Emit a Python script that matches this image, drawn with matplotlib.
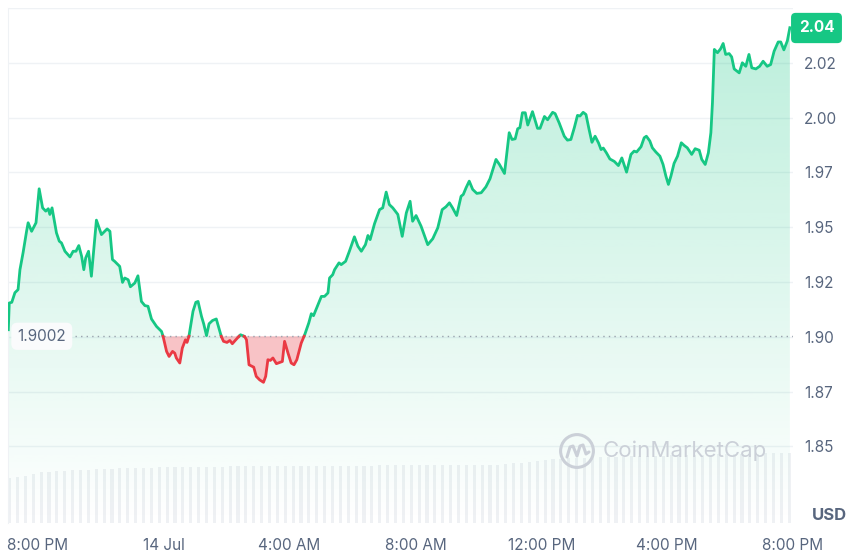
import numpy as np
import matplotlib
matplotlib.use("Agg")
import matplotlib.pyplot as plt
from matplotlib.patches import Polygon, Circle

# price, hours after 8:00 PM (13 Jul)
time_h = [-0.94, -0.91, -0.83, -0.73, -0.63, -0.57, -0.47, -0.36, -0.31, -0.20,
          -0.06, 0.04, 0.15, 0.25, 0.33, 0.38, 0.45, 0.59, 0.68, 0.75,
          0.86, 1.02, 1.12, 1.21, 1.30, 1.39, 1.46, 1.52, 1.61, 1.70,
          1.86, 2.02, 2.20, 2.29, 2.37, 2.44, 2.60, 2.69, 2.76, 2.87,
          2.94, 3.08, 3.18, 3.29, 3.40, 3.50, 3.61, 3.77, 3.93, 3.98,
          4.09, 4.17, 4.28, 4.35, 4.40, 4.51, 4.59, 4.69, 4.74, 4.80,
          4.93, 5.02, 5.09, 5.20, 5.27, 5.36, 5.44, 5.55, 5.67, 5.76,
          5.83, 5.90, 6.01, 6.10, 6.18, 6.29, 6.44, 6.57, 6.63, 6.71,
          6.86, 6.94, 7.05, 7.17, 7.24, 7.31, 7.39, 7.47, 7.58, 7.70,
          7.77, 7.84, 7.95, 8.05, 8.14, 8.23, 8.37, 8.48, 8.61, 8.69,
          8.76, 8.90, 9.01, 9.11, 9.22, 9.27, 9.37, 9.43, 9.57, 9.64,
          9.78, 9.90, 10.06, 10.17, 10.28, 10.41, 10.49, 10.56, 10.70, 10.86,
          10.96, 11.07, 11.17, 11.28, 11.44, 11.58, 11.71, 11.83, 11.91, 12.02,
          12.18, 12.39, 12.55, 12.71, 12.85, 12.97, 13.08, 13.18, 13.31, 13.45,
          13.52, 13.61, 13.71, 13.82, 13.95, 14.09, 14.24, 14.37, 14.56, 14.67,
          14.83, 14.98, 15.07, 15.17, 15.25, 15.32, 15.40, 15.49, 15.57, 15.72,
          15.88, 15.96, 16.10, 16.20, 16.36, 16.44, 16.57, 16.73, 16.83, 16.94,
          17.05, 17.15, 17.23, 17.33, 17.42, 17.52, 17.61, 17.71, 17.82, 17.90,
          17.97, 18.07, 18.18, 18.32, 18.45, 18.56, 18.71, 18.85, 18.95, 19.03,
          19.17, 19.27, 19.34, 19.45, 19.53, 19.64, 19.77, 19.87, 19.96, 20.04,
          20.12, 20.22, 20.33, 20.45, 20.54, 20.64, 20.78, 20.89, 21.02, 21.10,
          21.21, 21.31, 21.39, 21.44, 21.50, 21.60, 21.70, 21.78, 21.86, 21.97,
          22.05, 22.13, 22.29, 22.39, 22.50, 22.60, 22.69, 22.82, 22.94, 23.05,
          23.18, 23.29, 23.40, 23.53, 23.61, 23.71, 23.82, 23.90]
price = [1.9032, 1.9154, 1.9157, 1.9201, 1.9215, 1.9306, 1.9384, 1.9481, 1.9520, 1.9481,
         1.9520, 1.9675, 1.9588, 1.9573, 1.9584, 1.9558, 1.9588, 1.9474, 1.9436, 1.9428,
         1.9390, 1.9364, 1.9390, 1.9390, 1.9416, 1.9367, 1.9306, 1.9360, 1.9390, 1.9276,
         1.9532, 1.9466, 1.9492, 1.9481, 1.9352, 1.9344, 1.9321, 1.9248, 1.9268, 1.9260,
         1.9228, 1.9245, 1.9278, 1.9161, 1.9142, 1.9139, 1.9081, 1.9047, 1.9024, 1.9001,
         1.8933, 1.8910, 1.8933, 1.8925, 1.8903, 1.8880, 1.8948, 1.8986, 1.8974, 1.9001,
         1.9116, 1.9157, 1.9161, 1.9093, 1.9059, 1.9005, 1.9059, 1.9074, 1.9081, 1.9035,
         1.9001, 1.8979, 1.8974, 1.8983, 1.8968, 1.8986, 1.9009, 1.9001, 1.8986, 1.8872,
         1.8861, 1.8819, 1.8803, 1.8792, 1.8819, 1.8895, 1.8892, 1.8903, 1.8877, 1.8883,
         1.8887, 1.8979, 1.8925, 1.8880, 1.8872, 1.8895, 1.8971, 1.9009, 1.9063, 1.9105,
         1.9096, 1.9146, 1.9184, 1.9184, 1.9200, 1.9268, 1.9283, 1.9306, 1.9337, 1.9329,
         1.9344, 1.9390, 1.9456, 1.9413, 1.9390, 1.9420, 1.9462, 1.9443, 1.9516, 1.9580,
         1.9588, 1.9660, 1.9603, 1.9588, 1.9558, 1.9458, 1.9565, 1.9618, 1.9527, 1.9553,
         1.9504, 1.9420, 1.9447, 1.9497, 1.9580, 1.9593, 1.9611, 1.9588, 1.9553, 1.9641,
         1.9649, 1.9680, 1.9710, 1.9672, 1.9654, 1.9657, 1.9684, 1.9721, 1.9809, 1.9786,
         1.9745, 1.9931, 1.9900, 1.9903, 1.9949, 1.9954, 2.0022, 2.0022, 1.9966, 2.0027,
         1.9951, 1.9951, 2.0005, 1.9990, 2.0024, 2.0018, 1.9975, 1.9915, 1.9897, 1.9900,
         1.9954, 2.0010, 2.0007, 2.0024, 2.0014, 1.9945, 1.9887, 1.9915, 1.9884, 1.9854,
         1.9861, 1.9839, 1.9811, 1.9800, 1.9781, 1.9816, 1.9751, 1.9832, 1.9847, 1.9843,
         1.9867, 1.9908, 1.9915, 1.9893, 1.9862, 1.9843, 1.9824, 1.9786, 1.9733, 1.9695,
         1.9733, 1.9791, 1.9824, 1.9885, 1.9873, 1.9862, 1.9832, 1.9858, 1.9851, 1.9809,
         1.9786, 1.9839, 1.9931, 2.0068, 2.0311, 2.0296, 2.0314, 2.0338, 2.0288, 2.0292,
         2.0277, 2.0222, 2.0204, 2.0250, 2.0234, 2.0288, 2.0227, 2.0222, 2.0234, 2.0257,
         2.0234, 2.0242, 2.0303, 2.0345, 2.0345, 2.0309, 2.0350, 2.0410]

# volume, $M per 15 min, starting -0.9 h
volume = [4.5, 4.6, 4.7, 4.9, 5.1, 5.1, 5.2, 5.2, 5.3, 5.3,
          5.3, 5.4, 5.4, 5.4, 5.5, 5.5, 5.5, 5.5, 5.5, 5.6,
          5.6, 5.6, 5.6, 5.6, 5.6, 5.6, 5.6, 5.6, 5.7, 5.7,
          5.7, 5.7, 5.7, 5.7, 5.7, 5.7, 5.7, 5.7, 5.7, 5.7,
          5.7, 5.7, 5.7, 5.7, 5.7, 5.7, 5.7, 5.8, 5.8, 5.8,
          5.8, 5.8, 5.8, 5.8, 5.8, 5.8, 5.8, 5.8, 5.8, 5.8,
          5.8, 5.8, 5.8, 5.9, 6.0, 6.0, 6.1, 6.2, 6.3, 6.4,
          6.4, 6.5, 6.5, 6.5, 6.6, 6.6, 6.6, 6.6, 6.6, 6.7,
          6.7, 6.7, 6.7, 6.7, 6.8, 6.8, 6.8, 6.8, 6.8, 6.8,
          6.9, 6.9, 6.9, 6.9, 6.9, 6.9, 7.0, 7.0, 7.0, 7.0]

baseline = 1.9002
last_price = "2.04"
ytick_vals = [1.85, 1.875, 1.90, 1.925, 1.95, 1.975, 2.00, 2.025, 2.05]
ytick_labels = ["1.85", "1.87", "1.90", "1.92", "1.95", "1.97", "2.00", "2.02", ""]
xtick_vals = [0, 4, 8, 12, 16, 20, 24]
xtick_labels = ["8:00 PM", "14 Jul", "4:00 AM", "8:00 AM", "12:00 PM", "4:00 PM", "8:00 PM"]

GREEN = "#16c784"
RED = "#ea3943"
GREY = "#58667e"
plt.rcParams["font.family"] = ["Inter", "DejaVu Sans"]

t = np.array(time_h)
p = np.array(price)

# add the points where the line crosses the baseline
tt, pp = [t[0]], [p[0]]
for i in range(len(t) - 1):
    if (p[i] - baseline) * (p[i + 1] - baseline) < 0:
        f = (baseline - p[i]) / (p[i + 1] - p[i])
        tt.append(t[i] + f * (t[i + 1] - t[i]))
        pp.append(baseline)
    tt.append(t[i + 1])
    pp.append(p[i + 1])
tt = np.array(tt)
pp = np.array(pp)

xmin, xmax = -0.95, 23.97
ymin, ymax = 1.815, 2.05

fig = plt.figure(figsize=(8.53, 5.56), dpi=100)
rect = [8 / 853, 33 / 556, 785 / 853, 515 / 556]

axv = fig.add_axes(rect, zorder=0)
vt = -0.9 + 0.25 * np.arange(len(volume))
axv.bar(vt, volume, width=0.1, color="#eff1f4", linewidth=0)
axv.set_xlim(xmin, xmax)
axv.set_ylim(0, 51.5)
axv.axis("off")

ax = fig.add_axes(rect, zorder=1)
ax.patch.set_alpha(0)

# gradient fill under the line
grad = np.zeros((256, 1, 4))
grad[:, 0, :3] = matplotlib.colors.to_rgb(GREEN)
grad[:, 0, 3] = np.linspace(0.30, 0.0, 256)
im = ax.imshow(grad, extent=[xmin, xmax, ymin, ymax], aspect="auto", origin="upper", zorder=1)
poly = Polygon(list(zip(tt, pp)) + [(tt[-1], ymin), (tt[0], ymin)], closed=True,
               facecolor="none", edgecolor="none", transform=ax.transData)
ax.add_patch(poly)
im.set_clip_path(poly)

ax.fill_between(tt, pp, baseline, where=pp <= baseline + 1e-9, color=RED, alpha=0.3,
                linewidth=0, zorder=1.5)

green_line = np.where(pp >= baseline - 1e-9, pp, np.nan)
red_line = np.where(pp <= baseline + 1e-9, pp, np.nan)
ax.plot(tt, green_line, color=GREEN, lw=2.0, solid_joinstyle="round", zorder=3)
ax.plot(tt, red_line, color=RED, lw=2.0, solid_joinstyle="round", zorder=3)

ax.axhline(baseline, xmin=67 / 785, color="#9aa2ad", lw=1, linestyle=(0, (1, 3)), zorder=2)
ax.text(0.012, baseline, "1.9002", transform=ax.get_yaxis_transform(), ha="left", va="center",
        fontsize=11, color=GREY, zorder=4,
        bbox=dict(boxstyle="round,pad=0.4", facecolor="#fafbfc", edgecolor="none"))

ax.set_xlim(xmin, xmax)
ax.set_ylim(ymin, ymax)
ax.set_yticks(ytick_vals)
ax.set_yticklabels(ytick_labels)
ax.yaxis.tick_right()
ax.set_xticks(xtick_vals)
ax.set_xticklabels(xtick_labels)
ax.tick_params(axis="y", length=0, pad=8, labelsize=11, labelcolor=GREY)
ax.tick_params(axis="x", length=0, pad=11, labelsize=11, labelcolor=GREY)
for lab in ax.get_xticklabels():
    lab.set_clip_on(False)
ax.grid(axis="y", color="#eff2f5", lw=1, zorder=0.5)
ax.set_axisbelow(True)
for s in ["top", "right", "bottom"]:
    ax.spines[s].set_visible(False)
ax.spines["left"].set_color("#eff2f5")

fig.text(816.5 / 853, 1 - 28 / 556, last_price, ha="center", va="center", fontsize=11,
         fontweight="bold", color="white",
         bbox=dict(boxstyle="round,pad=0.5,rounding_size=0.3", facecolor=GREEN, edgecolor="none"))
fig.text(829 / 853, 1 - 516 / 556, "USD", ha="center", va="center", fontsize=12,
         fontweight="bold", color=GREY)

# watermark
fig.text(603 / 853, 1 - 451 / 556, "CoinMarketCap", ha="left", va="center", fontsize=16,
         color="#cbd0d8")
axl = fig.add_axes([557 / 853, (556 - 471) / 556, 40 / 853, 40 / 556], zorder=2)
axl.set_xlim(-1, 1)
axl.set_ylim(-1, 1)
axl.axis("off")
axl.add_patch(Circle((0, 0), 0.82, fill=False, edgecolor="#cbd0d8", lw=2.2))
axl.plot([-0.5, -0.35, -0.2, 0.0, 0.15, 0.3, 0.45, 0.6],
         [-0.3, 0.2, 0.25, -0.25, 0.25, 0.3, -0.15, -0.05],
         color="#cbd0d8", lw=2.2, solid_capstyle="round")

fig.savefig("out.png", dpi=100, facecolor="white")
